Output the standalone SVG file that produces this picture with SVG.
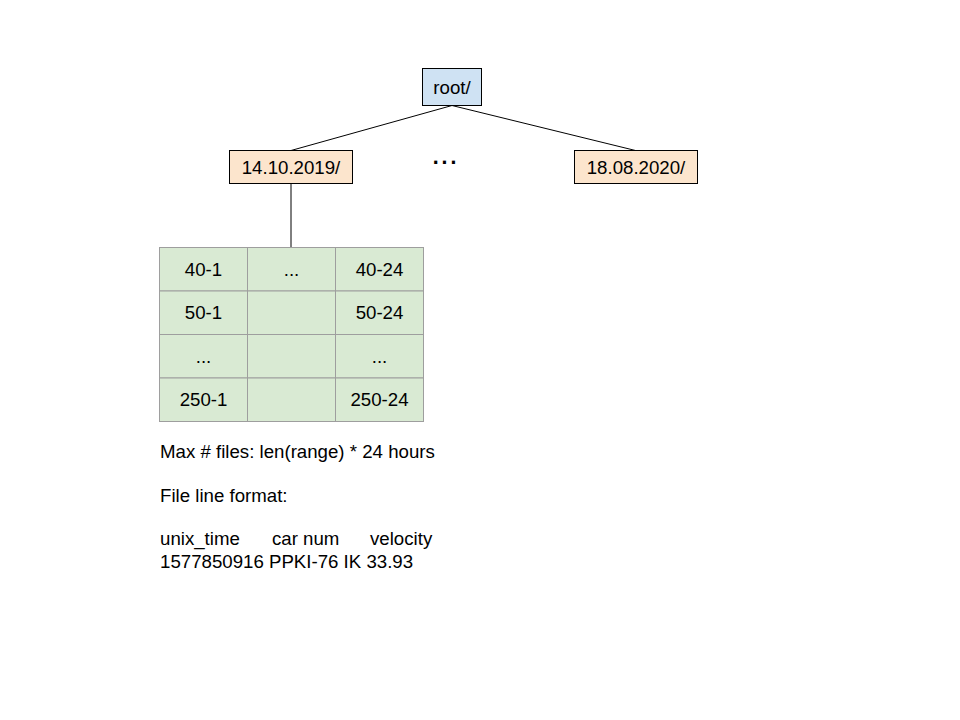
<svg xmlns="http://www.w3.org/2000/svg" width="960" height="720" viewBox="0 0 960 720">
<style>
text{font-family:"Liberation Sans",Arial,sans-serif;font-size:18.67px;fill:#000}
.c{text-anchor:middle}
.conn{stroke:#000;stroke-width:1;fill:none}
.root{fill:#cfe2f3;stroke:#000;stroke-width:1}
.date{fill:#fce5cd;stroke:#000;stroke-width:1}
.cell{fill:#d9ead3;stroke:#9e9e9e;stroke-width:1}
</style>
<rect width="960" height="720" fill="#fff"/>
<g id="connectors">
<line class="conn" x1="452" y1="105.5" x2="291" y2="150.5"/>
<line class="conn" x1="452" y1="105.5" x2="635.5" y2="150.5"/>
<line class="conn" x1="291" y1="183.5" x2="291" y2="247.5"/>
</g>
<g id="root">
<rect class="root" x="422.5" y="68.5" width="59" height="37"/>
<text class="c" x="452" y="94">root/</text>
</g>
<g id="date1">
<rect class="date" x="229.5" y="150.5" width="123" height="33"/>
<text class="c" x="291" y="174">14.10.2019/</text>
</g>
<g id="ellipsis">
<text class="c" x="444.5" y="164" style="font-size:32px">...</text>
</g>
<g id="date2">
<rect class="date" x="574.5" y="150.5" width="123" height="33"/>
<text class="c" x="636" y="174">18.08.2020/</text>
</g>
<g id="table">
<rect class="cell" x="159.5" y="247.5" width="88" height="43.5"/>
<rect class="cell" x="247.5" y="247.5" width="88" height="43.5"/>
<rect class="cell" x="335.5" y="247.5" width="88" height="43.5"/>
<rect class="cell" x="159.5" y="291" width="88" height="43.5"/>
<rect class="cell" x="247.5" y="291" width="88" height="43.5"/>
<rect class="cell" x="335.5" y="291" width="88" height="43.5"/>
<rect class="cell" x="159.5" y="334.5" width="88" height="43.5"/>
<rect class="cell" x="247.5" y="334.5" width="88" height="43.5"/>
<rect class="cell" x="335.5" y="334.5" width="88" height="43.5"/>
<rect class="cell" x="159.5" y="378" width="88" height="43.5"/>
<rect class="cell" x="247.5" y="378" width="88" height="43.5"/>
<rect class="cell" x="335.5" y="378" width="88" height="43.5"/>
<text class="c" x="203.5" y="276">40-1</text>
<text class="c" x="291.5" y="276">...</text>
<text class="c" x="379.5" y="276">40-24</text>
<text class="c" x="203.5" y="319">50-1</text>
<text class="c" x="379.5" y="319">50-24</text>
<text class="c" x="203.5" y="363">...</text>
<text class="c" x="379.5" y="363">...</text>
<text class="c" x="203.5" y="406">250-1</text>
<text class="c" x="379.5" y="406">250-24</text>
</g>
<g id="notes">
<text x="160" y="458">Max # files: len(range) * 24 hours</text>
<text x="160" y="502">File line format:</text>
<text y="545"><tspan x="160">unix_time</tspan><tspan x="272">car num</tspan><tspan x="370">velocity</tspan></text>
<text x="160" y="568">1577850916 PPKI-76 IK 33.93</text>
</g>
</svg>
